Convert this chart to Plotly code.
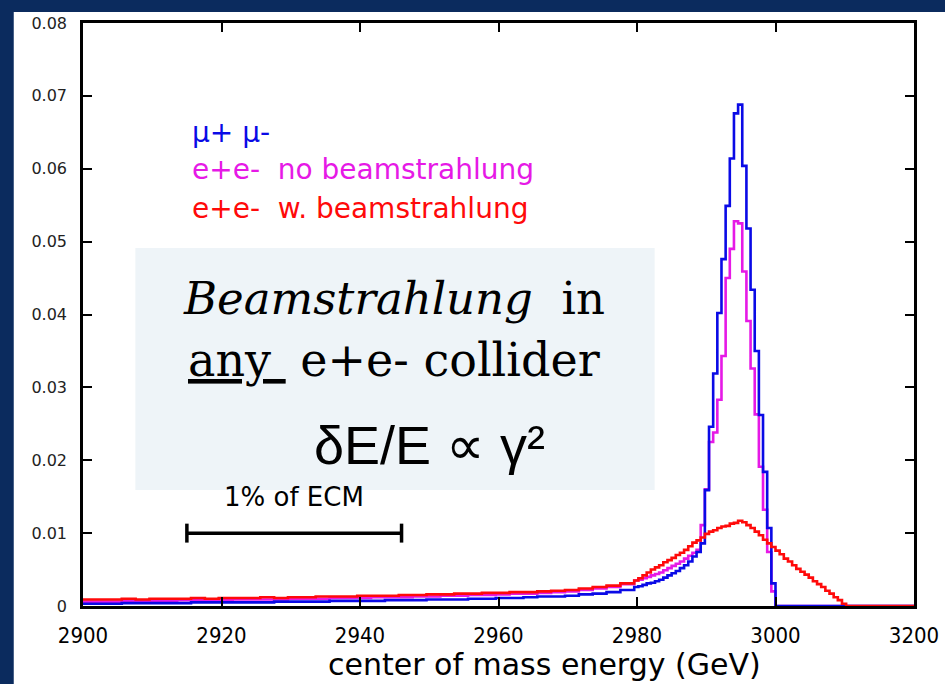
import numpy as np
import plotly.graph_objects as go

# ---------------- data ----------------
# x-axis ticks (the original plot labels the last tick "3200")
tick_vals = [2900, 2920, 2940, 2960, 2980, 3000, 3020]
tick_text = ["2900", "2920", "2940", "2960", "2980", "3000", "3200"]
y_tick_vals = [0, 0.01, 0.02, 0.03, 0.04, 0.05, 0.06, 0.07, 0.08]
y_tick_text = ["0", "0.01", "0.02", "0.03", "0.04", "0.05", "0.06", "0.07", "0.08"]

# tail region: 2 GeV bins, lower edges 2899.6 ... 2977.6
tail_edges = np.round(np.arange(2899.6, 2979.0, 2.0), 1)
# peak region: 0.6 GeV bins, lower edges 2979.6 ... 3009.6
fine_edges = np.round(np.arange(2979.6, 3010.0, 0.6), 1)
hist_end = 3010.2
axis_end = 3020

blue_tail = [0.0003, 0.0003, 0.0003, 0.0004, 0.0004, 0.0004, 0.0004, 0.0004, 0.0005, 0.0005,
             0.0005, 0.0005, 0.0005, 0.0005, 0.0006, 0.0006, 0.0006, 0.0006, 0.0007, 0.0007,
             0.0007, 0.0007, 0.0008, 0.0008, 0.0008, 0.0009, 0.0009, 0.0009, 0.0010, 0.0010,
             0.0011, 0.0011, 0.0012, 0.0013, 0.0013, 0.0014, 0.0016, 0.0017, 0.0019, 0.0022]
magenta_tail = [0.0006, 0.0006, 0.0006, 0.0007, 0.0007, 0.0007, 0.0007, 0.0008, 0.0008, 0.0008,
                0.0008, 0.0009, 0.0009, 0.0009, 0.0009, 0.0010, 0.0010, 0.0010, 0.0011, 0.0011,
                0.0011, 0.0012, 0.0012, 0.0012, 0.0013, 0.0013, 0.0014, 0.0014, 0.0015, 0.0015,
                0.0016, 0.0017, 0.0017, 0.0018, 0.0019, 0.0020, 0.0022, 0.0024, 0.0026, 0.0030]
red_tail = [0.0009, 0.0009, 0.0009, 0.0010, 0.0009, 0.0010, 0.0010, 0.0010, 0.0011, 0.0010,
            0.0011, 0.0011, 0.0011, 0.0012, 0.0011, 0.0012, 0.0012, 0.0013, 0.0013, 0.0013,
            0.0014, 0.0014, 0.0014, 0.0015, 0.0015, 0.0016, 0.0016, 0.0017, 0.0017, 0.0018,
            0.0018, 0.0019, 0.0019, 0.0020, 0.0021, 0.0022, 0.0024, 0.0026, 0.0028, 0.0031]

# peak region, ascending x, 2979.6 -> 3000.0 (34 bins), empty above 3000
blue_peak = [0.0026, 0.0027, 0.0029, 0.0031, 0.0032, 0.0034, 0.0036, 0.0039, 0.0042, 0.0045,
             0.0048, 0.0052, 0.0056, 0.0061, 0.0068, 0.0074, 0.0086, 0.0159, 0.0246, 0.0319,
             0.0402, 0.0476, 0.0549, 0.0614, 0.0676, 0.0688, 0.0604, 0.0518, 0.0434, 0.0350,
             0.0262, 0.0184, 0.0107, 0.0031]
magenta_peak = [0.0035, 0.0036, 0.0038, 0.0040, 0.0042, 0.0044, 0.0046, 0.0049, 0.0052, 0.0055,
                0.0058, 0.0061, 0.0065, 0.0069, 0.0073, 0.0077, 0.0111, 0.0160, 0.0225, 0.0238,
                0.0283, 0.0343, 0.0450, 0.0490, 0.0528, 0.0525, 0.0459, 0.0391, 0.0326, 0.0263,
                0.0191, 0.0132, 0.0074, 0.0020]
# red, ascending x, 2979.6 -> 3010.2 (51 bins)
red_peak = [0.0035, 0.0038, 0.0042, 0.0046, 0.0050, 0.0053, 0.0056, 0.0060, 0.0063, 0.0066,
            0.0070, 0.0073, 0.0077, 0.0082, 0.0087, 0.0090, 0.0094, 0.0099, 0.0102, 0.0104,
            0.0107, 0.0109, 0.0110, 0.0113, 0.0114, 0.0117, 0.0115, 0.0111, 0.0107, 0.0102,
            0.0097, 0.0091, 0.0086, 0.0081, 0.0076, 0.0071, 0.0065, 0.0061, 0.0056, 0.0051,
            0.0047, 0.0043, 0.0039, 0.0034, 0.0030, 0.0026, 0.0021, 0.0017, 0.0012, 0.0008,
            0.0003]

series_names = ["μ+ μ-", "e+e-  no beamstrahlung", "e+e-  w. beamstrahlung"]
colors = {"blue": "#0a0ae6", "magenta": "#e619e6", "red": "#ff0a0a"}
NAVY = "#0b2b5e"


def step_xy(tail, peak):
    vals = list(tail) + list(peak)
    n_fine = len(fine_edges)
    vals += [0.0] * (len(tail_edges) + n_fine - len(vals))
    xs = list(tail_edges) + list(fine_edges) + [hist_end, axis_end]
    ys = vals + [0.0, 0.0]
    return xs, ys


# ---------------- figure ----------------
# the captured viewport is slightly wider than 945 px and scaled down, so
# layout is defined in picture pixels and converted with SX
SX = 951 / 945
W, H = 951, 684
L = round(82 * SX)
R = W - round(916 * SX)
T, B = 23, 78
PW, PH = W - L - R, H - T - B


def px(x):
    return (x * SX - L) / PW


def py(y):
    return (H - B - y) / PH


fig = go.Figure()
for key, tail, peak in [("magenta", magenta_tail, magenta_peak),
                        ("blue", blue_tail, blue_peak),
                        ("red", red_tail, red_peak)]:
    xs, ys = step_xy(tail, peak)
    fig.add_trace(go.Scatter(x=xs, y=ys, mode="lines", line_shape="hv",
                             line=dict(color=colors[key], width=2.6),
                             hoverinfo="skip", showlegend=False))

shapes = [
    # white slide panel
    dict(type="rect", xref="paper", yref="paper", x0=px(13), x1=px(960), y0=py(12), y1=py(690),
         fillcolor="white", line=dict(width=0), layer="below"),
    # light info box
    dict(type="rect", xref="paper", yref="paper", x0=px(135), x1=px(656), y0=py(490), y1=py(248),
         fillcolor="#eef4f8", line=dict(width=0), layer="below"),
    # 1% of ECM bar
    dict(type="line", xref="x", yref="y", x0=2915, x1=2946, y0=0.01, y1=0.01,
         line=dict(color="black", width=3.5)),
    dict(type="line", xref="x", yref="y", x0=2915, x1=2915, y0=0.0087, y1=0.0113,
         line=dict(color="black", width=3.5)),
    dict(type="line", xref="x", yref="y", x0=2946, x1=2946, y0=0.0087, y1=0.0113,
         line=dict(color="black", width=3.5)),
]

legend_font = "DejaVu Sans"
cond = "DejaVu Sans Condensed, Liberation Sans Narrow, DejaVu Sans"
annotations = [
    dict(text=series_names[0], x=px(190), y=py(132), xanchor="left", yanchor="middle",
         font=dict(family=legend_font, size=28, color=colors["blue"])),
    dict(text=series_names[1], x=px(190), y=py(169), xanchor="left", yanchor="middle",
         font=dict(family=legend_font, size=28, color=colors["magenta"])),
    dict(text=series_names[2], x=px(190), y=py(208), xanchor="left", yanchor="middle",
         font=dict(family=legend_font, size=28, color=colors["red"])),
    dict(text="<i>Beamstrahlung</i>  in", x=px(394), y=py(298), xanchor="center", yanchor="middle",
         font=dict(family="DejaVu Serif", size=45, color="black")),
    dict(text="<u>any </u> e+e- collider", x=px(394), y=py(360), xanchor="center", yanchor="middle",
         font=dict(family="DejaVu Serif", size=46, color="black")),
    dict(text="δE/E ∝ γ²", x=px(430), y=py(445), xanchor="center", yanchor="middle",
         font=dict(family="Liberation Sans", size=54, color="black")),
    dict(text="1% of ECM", x=px(294), y=py(497), xanchor="center", yanchor="middle",
         font=dict(family="DejaVu Sans", size=26, color="black")),
    dict(text="center of mass energy (GeV)", x=px(545), y=py(664), xanchor="center", yanchor="middle",
         font=dict(family="DejaVu Sans", size=30, color="black")),
]
for a in annotations:
    a.update(xref="paper", yref="paper", showarrow=False)

fig.update_layout(
    width=W, height=H,
    margin=dict(l=L, r=R, t=T, b=B, pad=0),
    paper_bgcolor=NAVY,
    plot_bgcolor="rgba(0,0,0,0)",
    shapes=shapes,
    annotations=annotations,
    showlegend=False,
)
fig.update_xaxes(range=[2900, 3020], tickmode="array", tickvals=tick_vals, ticktext=tick_text,
                 ticks="inside", ticklen=9, tickwidth=2, tickcolor="black",
                 showline=True, linewidth=2.5, linecolor="black", mirror="ticks",
                 showgrid=False, zeroline=False, ticklabelstandoff=8,
                 tickfont=dict(family=cond, size=22, color="black"))
fig.update_yaxes(range=[0, 0.08], tickmode="array", tickvals=y_tick_vals, ticktext=y_tick_text,
                 ticks="inside", ticklen=9, tickwidth=2, tickcolor="black",
                 showline=True, linewidth=2.5, linecolor="black", mirror="ticks",
                 showgrid=False, zeroline=False, ticklabelstandoff=10,
                 tickfont=dict(family="DejaVu Sans", size=16, color="#222222"))

fig.write_html("out.html",
               config={"displayModeBar": False},
               post_script="document.documentElement.style.margin='0';"
                           "document.documentElement.style.overflow='hidden';"
                           "document.body.style.margin='0';"
                           "document.body.style.overflow='hidden';"
                           "document.body.style.background='" + NAVY + "';")
